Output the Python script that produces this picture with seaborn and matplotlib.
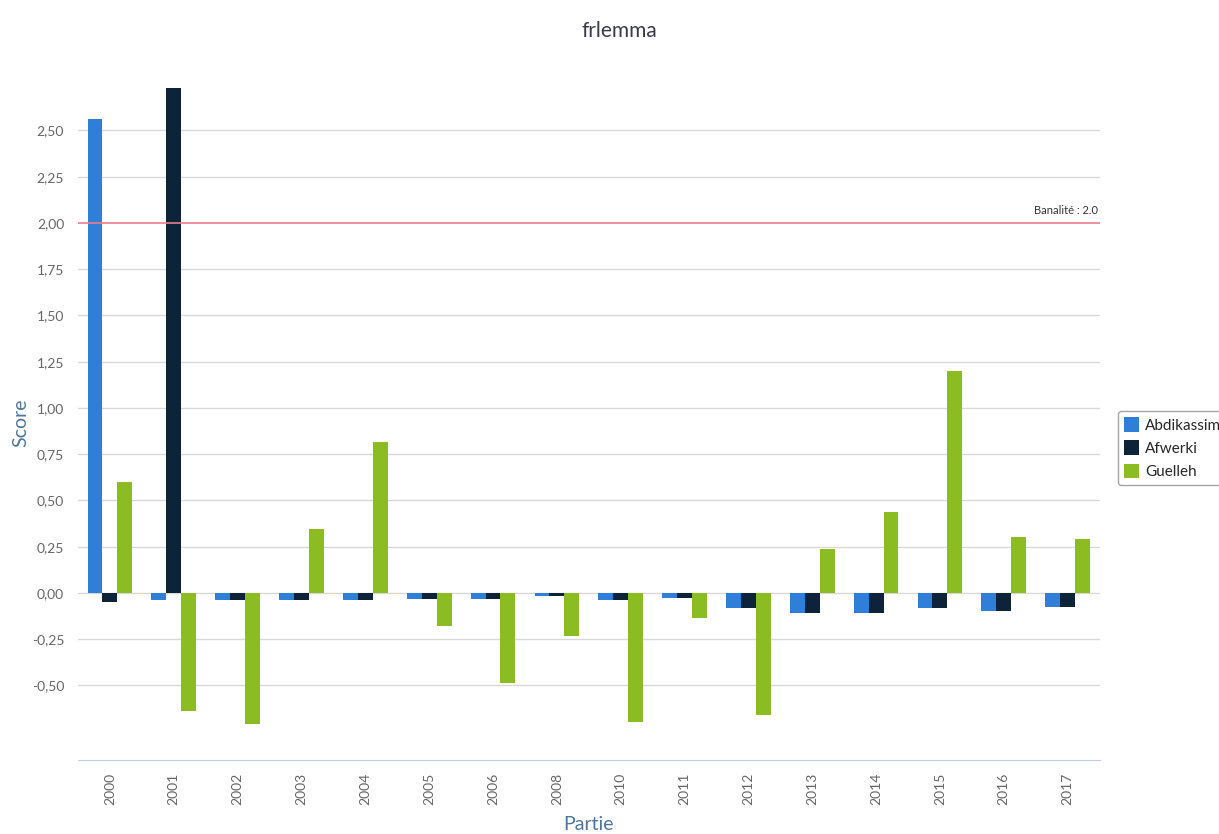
import pandas as pd
import numpy as np
import seaborn as sns
import matplotlib.pyplot as plt
from matplotlib.ticker import FixedLocator


years = ['2000', '2001', '2002', '2003', '2004', '2005', '2006', '2008',
         '2010', '2011', '2012', '2013', '2014', '2015', '2016', '2017']
abdikassim = [2.56, -0.038, -0.04, -0.04, -0.04, -0.032, -0.032, -0.015,
              -0.04, -0.028, -0.08, -0.11, -0.11, -0.08, -0.10, -0.074]
afwerki = [-0.047, 2.73, -0.04, -0.04, -0.04, -0.032, -0.032, -0.015,
           -0.04, -0.028, -0.08, -0.11, -0.11, -0.08, -0.10, -0.074]
guelleh = [0.60, -0.64, -0.71, 0.346, 0.816, -0.18, -0.485, -0.23,
           -0.70, -0.133, -0.66, 0.238, 0.44, 1.20, 0.30, 0.29]
names = ['Abdikassim', 'Afwerki', 'Guelleh']
y_ticks = [-0.5, -0.25, 0, 0.25, 0.5, 0.75, 1.0, 1.25, 1.5, 1.75, 2.0, 2.25, 2.5]
banalite = 2.0

df = pd.DataFrame({
    'Partie': years * 3,
    'Score': abdikassim + afwerki + guelleh,
    'Nom': [n for n in names for _ in years],
})

sns.set_style('white')
plt.rcParams['font.family'] = ['Lato', 'DejaVu Sans']

fig = plt.figure(figsize=(12.19, 8.34), dpi=100)
ax = fig.add_axes([0.064, 0.0887, 0.838, 0.8094])

palette = {'Abdikassim': '#2f7ed8', 'Afwerki': '#0d233a', 'Guelleh': '#8bbc21'}
sns.barplot(data=df, x='Partie', y='Score', hue='Nom', palette=palette,
            width=0.7, gap=0, saturation=1, linewidth=0, ax=ax, legend=True)

ax.set_ylim(-0.903, 2.746)
ax.set_xlim(-0.5, len(years) - 0.5)

# gridlines only where ticks are
for t in y_ticks:
    if t != banalite:
        ax.axhline(t, color='#d8d8d8', lw=1, zorder=0)
ax.set_yticks(y_ticks)
ax.set_yticklabels([f'{t:.2f}'.replace('.', ',') for t in y_ticks])
ax.tick_params(axis='y', length=0, labelsize=10, labelcolor='#666666', pad=10)

ax.axhline(banalite, color='#e8808c', lw=1.2, zorder=1)
ax.text(len(years) - 0.53, banalite + 0.04, 'Banalité : 2.0', ha='right', va='bottom',
        fontsize=8, color='#333333')

for s in ['left', 'right', 'top']:
    ax.spines[s].set_visible(False)
ax.spines['bottom'].set_color('#c0d0e0')
ax.xaxis.set_minor_locator(FixedLocator(np.arange(-0.5, len(years), 1)))
ax.tick_params(axis='x', which='minor', length=10, color='#c0d0e0', width=1)
ax.tick_params(axis='x', which='major', length=0, labelsize=10, labelcolor='#666666',
               rotation=90, pad=9)

ax.set_xlabel('Partie', fontsize=14, color='#4d759e', labelpad=8)
ax.set_ylabel('Score', fontsize=14, color='#4d759e', labelpad=2)
fig.suptitle('frlemma', x=0.508, y=0.975, fontsize=15, color='#3a3a4a')

handles, labels = ax.get_legend_handles_labels()
ax.get_legend().remove()
leg = fig.legend(handles, labels, loc='upper left', bbox_to_anchor=(0.917, 0.507),
                 fontsize=11, frameon=True, fancybox=True, edgecolor='#909090',
                 handlelength=1.0, handleheight=1.1, handletextpad=0.4,
                 labelspacing=0.5, borderpad=0.4, borderaxespad=0)
leg.get_frame().set_linewidth(1)

fig.savefig('out.png', dpi=100)
